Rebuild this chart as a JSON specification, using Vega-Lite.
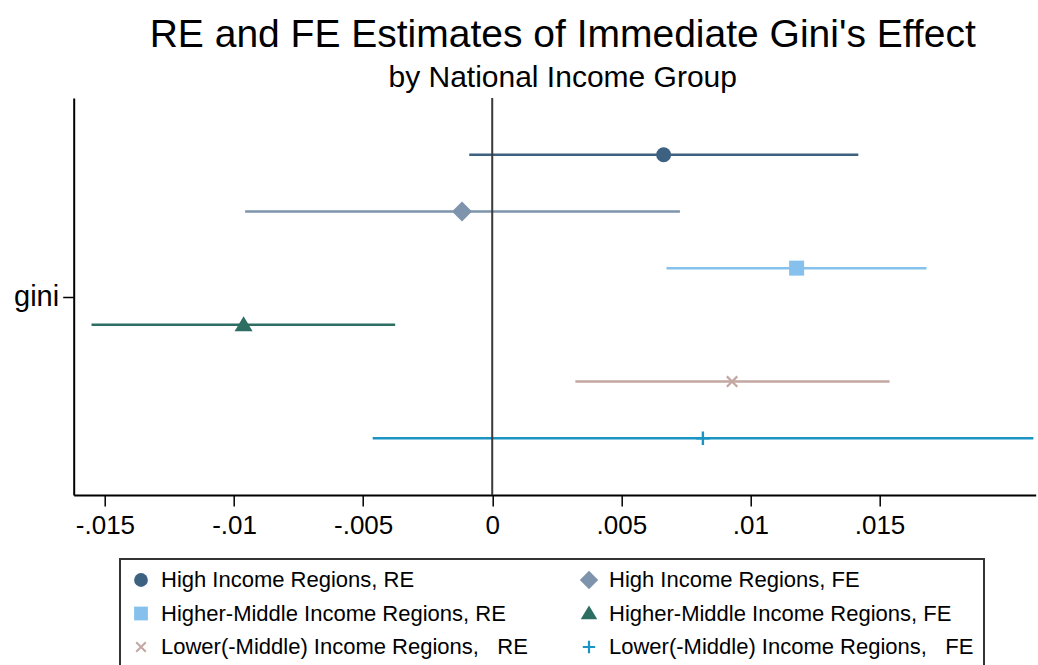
{
  "$schema": "https://vega.github.io/schema/vega-lite/v6.json",
  "autosize": {"type": "none"},
  "padding": {"left": 73.7, "top": 98, "right": 2.3, "bottom": 170},
  "width": 962,
  "height": 397,
  "background": "white",
  "config": {
    "view": {"stroke": null},
    "font": "Liberation Sans",
    "legend": {
      "orient": "none",
      "legendX": 46.3,
      "legendY": 461,
      "columns": 2,
      "direction": "horizontal",
      "title": null,
      "padding": 10,
      "strokeColor": "#333333",
      "fillColor": "white",
      "symbolSize": 190,
      "symbolStrokeWidth": 0,
      "symbolOpacity": 1,
      "labelFont": "Liberation Sans",
      "labelFontSize": 22,
      "labelColor": "black",
      "labelLimit": 600,
      "labelOffset": 9,
      "columnPadding": 50,
      "rowPadding": 11.5
    }
  },
  "title": {
    "text": "RE and FE Estimates of Immediate Gini's Effect",
    "subtitle": "by National Income Group",
    "anchor": "middle",
    "dx": 8,
    "offset": 4,
    "font": "Liberation Sans",
    "fontSize": 39,
    "fontWeight": "normal",
    "color": "black",
    "subtitleFont": "Liberation Sans",
    "subtitleFontSize": 30,
    "subtitleColor": "black",
    "subtitlePadding": 8
  },
  "data": {
    "values": [
      {"row": 1, "series": "High Income Regions, RE", "est": 0.00664, "lo": -0.00089, "hi": 0.01418},
      {"row": 2, "series": "High Income Regions, FE", "est": -0.00117, "lo": -0.00957, "hi": 0.00727},
      {"row": 3, "series": "Higher-Middle Income Regions, RE", "est": 0.01179, "lo": 0.00675, "hi": 0.01682},
      {"row": 4, "series": "Higher-Middle Income Regions, FE", "est": -0.00963, "lo": -0.01552, "hi": -0.00376},
      {"row": 5, "series": "Lower(-Middle) Income Regions,\u00a0\u00a0 RE", "est": 0.00929, "lo": 0.00322, "hi": 0.01539},
      {"row": 6, "series": "Lower(-Middle) Income Regions,\u00a0\u00a0 FE", "est": 0.00816, "lo": -0.00463, "hi": 0.02096}
    ]
  },
  "resolve": {
    "scale": {"color": "independent", "shape": "independent"},
    "legend": {"color": "independent", "shape": "independent"}
  },
  "layer": [
    {
      "mark": {"type": "rule", "strokeWidth": 2.5},
      "encoding": {
        "x": {
          "field": "lo", "type": "quantitative",
          "scale": {"domain": [-0.01621, 0.02105], "nice": false, "zero": false},
          "axis": {
            "values": [-0.015, -0.01, -0.005, 0, 0.005, 0.01, 0.015],
            "labelExpr": "replace(replace(replace(format(datum.value, '.3~f'), '\u2212', '-'), '0.', '.'), '-0.', '-.')",
            "title": null,
            "grid": false,
            "domainColor": "black",
            "domainWidth": 2,
            "tickColor": "black",
            "tickWidth": 1.5,
            "tickSize": 11,
            "labelFont": "Liberation Sans",
            "labelFontSize": 26,
            "labelColor": "black",
            "labelPadding": 6,
            "labelFlush": false,
            "labelOverlap": false
          }
        },
        "x2": {"field": "hi"},
        "y": {
          "field": "row", "type": "quantitative",
          "scale": {"domain": [0, 7], "reverse": true, "nice": false, "zero": false},
          "axis": {
            "values": [3.5],
            "labelExpr": "'gini'",
            "title": null,
            "grid": false,
            "domainColor": "black",
            "domainWidth": 2,
            "tickColor": "black",
            "tickWidth": 1.5,
            "tickSize": 11,
            "labelFont": "Liberation Sans",
            "labelFontSize": 29,
            "labelColor": "black",
            "labelPadding": 4
          }
        },
        "color": {
          "field": "series", "type": "nominal",
          "scale": {
            "domain": ["High Income Regions, RE", "High Income Regions, FE", "Higher-Middle Income Regions, RE", "Higher-Middle Income Regions, FE", "Lower(-Middle) Income Regions,\u00a0\u00a0 RE", "Lower(-Middle) Income Regions,\u00a0\u00a0 FE"],
            "range": ["#3d6180", "#7e93ac", "#85c1ec", "#2d6e63", "#c4a7a2", "#1a94c2"]
          },
          "legend": null
        }
      }
    },
    {
      "data": {"values": [{"zero": 0}]},
      "mark": {"type": "rule", "color": "#3a3a3a", "strokeWidth": 2},
      "encoding": {
        "x": {"field": "zero", "type": "quantitative"}
      }
    },
    {
      "mark": {"type": "point", "filled": true, "opacity": 1, "size": 225, "strokeWidth": 0},
      "encoding": {
        "x": {"field": "est", "type": "quantitative"},
        "y": {"field": "row", "type": "quantitative"},
        "color": {
          "field": "series", "type": "nominal",
          "scale": {
            "domain": ["High Income Regions, RE", "High Income Regions, FE", "Higher-Middle Income Regions, RE", "Higher-Middle Income Regions, FE", "Lower(-Middle) Income Regions,\u00a0\u00a0 RE", "Lower(-Middle) Income Regions,\u00a0\u00a0 FE"],
            "range": ["#3d6180", "#7e93ac", "#85c1ec", "#2d6e63", "#c4a7a2", "#1a94c2"]
          },
          "legend": {
            "orient": "none",
            "legendX": 46.3,
            "legendY": 461,
            "columns": 2,
            "direction": "horizontal",
            "title": null,
            "encode": {"legend": {"update": {"strokeWidth": {"value": 2}}}}
          }
        },
        "shape": {
          "field": "series", "type": "nominal",
          "scale": {
            "domain": ["High Income Regions, RE", "High Income Regions, FE", "Higher-Middle Income Regions, RE", "Higher-Middle Income Regions, FE", "Lower(-Middle) Income Regions,\u00a0\u00a0 RE", "Lower(-Middle) Income Regions,\u00a0\u00a0 FE"],
            "range": [
              "circle",
              "M0,-1.33L1.33,0L0,1.33L-1.33,0Z",
              "square",
              "M0,-1.15L1.2,0.85L-1.2,0.85Z",
              "M-0.8,-0.59L-0.59,-0.8L0.8,0.59L0.59,0.8Z M0.59,-0.8L0.8,-0.59L-0.59,0.8L-0.8,0.59Z",
              "M-0.16,-0.9H0.16V-0.16H0.9V0.16H0.16V0.9H-0.16V0.16H-0.9V-0.16H-0.16Z"
            ]
          },
          "legend": {
            "orient": "none",
            "legendX": 46.3,
            "legendY": 461,
            "columns": 2,
            "direction": "horizontal",
            "title": null,
            "encode": {"legend": {"update": {"strokeWidth": {"value": 2}}}}
          }
        }
      }
    }
  ]
}
